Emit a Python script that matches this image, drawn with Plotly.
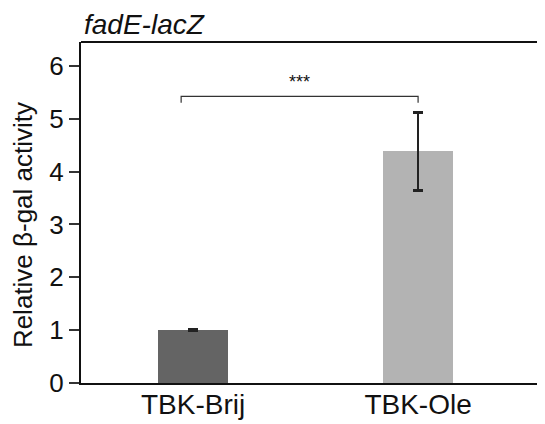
import plotly.graph_objects as go

categories = ["TBK-Brij", "TBK-Ole"]
values = [1.0, 4.38]
errors = [0.015, 0.74]
bar_colors = ["#646464", "#b3b3b3"]
y_ticks = [0, 1, 2, 3, 4, 5, 6]
title_text = "fadE-lacZ"
y_title = "Relative β-gal activity"
sig_label = "***"
sig_level = 5.42
sig_drop = 0.12

FONT = "Arial, 'Liberation Sans', sans-serif"

fig = go.Figure()
fig.add_trace(go.Bar(
    x=[0, 1], y=values,
    width=0.31,
    marker=dict(color=bar_colors, line=dict(width=0)),
    error_y=dict(type="data", array=errors, visible=True,
                 color="#222222", thickness=2.5, width=5),
))

# significance bracket
x_left = 0 - 0.053
x_right = 1
fig.add_shape(type="path",
              path=f"M {x_left} {sig_level - sig_drop} L {x_left} {sig_level} L {x_right} {sig_level} L {x_right} {sig_level - sig_drop}",
              xref="x", yref="y", line=dict(color="#333333", width=1.2))
fig.add_annotation(x=(x_left + x_right) / 2, y=sig_level, xref="x", yref="y",
                   text=sig_label, showarrow=False, yanchor="bottom", yshift=2,
                   font=dict(family=FONT, size=18, color="#111111"))

# top frame line
fig.add_shape(type="line", x0=0, x1=1, y0=1, y1=1, xref="paper", yref="paper",
              line=dict(color="#111111", width=2))

# title
fig.add_annotation(x=0, y=1, xref="paper", yref="paper", xanchor="left", yanchor="bottom",
                   text=f"<i>{title_text}</i>", showarrow=False, xshift=1, yshift=0,
                   font=dict(family=FONT, size=28, color="#111111"))

# y-axis title
fig.add_annotation(x=0, y=0.463, xref="paper", yref="paper", xanchor="right", yanchor="middle",
                   text=y_title, textangle=-90, showarrow=False, xshift=-42, borderpad=0,
                   font=dict(family=FONT, size=26, color="#111111"))

fig.update_layout(
    width=537, height=416,
    margin=dict(l=73, r=0, t=34, b=41, autoexpand=False),
    paper_bgcolor="white", plot_bgcolor="white",
    showlegend=False,
    bargap=0,
    xaxis=dict(
        range=[-0.498, 1.564],
        tickmode="array", tickvals=[0, 1], ticktext=categories,
        showline=True, linecolor="#111111", linewidth=2,
        ticks="", showgrid=False, zeroline=False,
        tickfont=dict(family=FONT, size=28, color="#111111"),
        ticklabelstandoff=-5,
        automargin=False,
    ),
    yaxis=dict(
        range=[0, 6.45],
        tickmode="array", tickvals=y_ticks,
        showline=True, linecolor="#111111", linewidth=2,
        ticks="outside", ticklen=10, tickwidth=1.5, tickcolor="#333333",
        showgrid=False, zeroline=False,
        tickfont=dict(family=FONT, size=26, color="#111111"),
        automargin=False,
    ),
)

fig.write_html("out.html")
